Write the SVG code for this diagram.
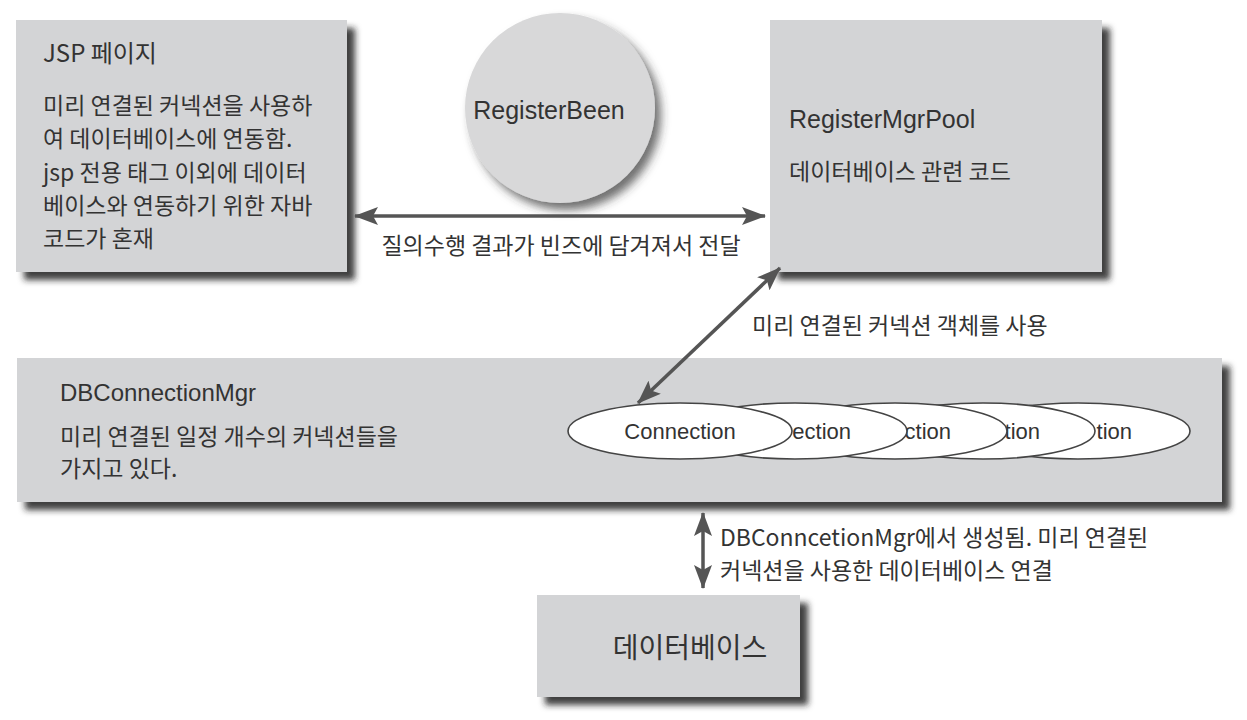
<svg xmlns="http://www.w3.org/2000/svg" width="1247" height="720" viewBox="0 0 1247 720">
<defs>
<style>
.box{fill:#d3d4d6;filter:url(#sh);}
.kr{font-family:"Noto Sans CJK KR","Liberation Sans",sans-serif;fill:#333;font-size:23px;}
.lt{font-family:"Liberation Sans","Noto Sans CJK KR",sans-serif;fill:#333;font-size:25px;}
.conn{fill:#fff;stroke:#444;stroke-width:1.6;}
.ct{font-family:"Liberation Sans",sans-serif;fill:#333;font-size:22px;}
.arr{stroke:#555;stroke-width:3.5;fill:none;marker-start:url(#ah);marker-end:url(#ah);}
</style>
<filter id="sh" x="-10%" y="-10%" width="130%" height="140%">
<feDropShadow dx="8" dy="8" stdDeviation="3" flood-color="#222" flood-opacity="0.85"/>
</filter>
<filter id="csh" x="-20%" y="-20%" width="150%" height="150%">
<feDropShadow dx="6" dy="7" stdDeviation="5" flood-color="#333" flood-opacity="0.7"/>
</filter>
<marker id="ah" viewBox="0 0 24 18" refX="23" refY="9" markerWidth="24" markerHeight="18" markerUnits="userSpaceOnUse" orient="auto-start-reverse">
<path d="M0,0 L24,9 L0,18 L5,9 z" fill="#555"/>
</marker>
</defs>
<rect width="1247" height="720" fill="#fff"/>

<g id="jsp">
<rect class="box" x="16" y="20" width="331" height="252"/>
<text class="kr" x="43" y="62" style="font-size:24px">JSP 페이지</text>
<text class="kr" x="43" y="114">미리 연결된 커넥션을 사용하</text>
<text class="kr" x="43" y="147">여 데이터베이스에 연동함.</text>
<text class="kr" x="43" y="181">jsp 전용 태그 이외에 데이터</text>
<text class="kr" x="43" y="214">베이스와 연동하기 위한 자바</text>
<text class="kr" x="43" y="247">코드가 혼재</text>
</g>

<g id="registerbeen">
<circle cx="560" cy="108" r="95" fill="#d8d8d9" filter="url(#csh)"/>
<text class="lt" x="549" y="119" text-anchor="middle">RegisterBeen</text>
</g>

<g id="registermgrpool">
<rect class="box" x="770" y="20" width="332" height="252"/>
<text class="lt" x="789" y="128">RegisterMgrPool</text>
<text class="kr" x="789" y="180">데이터베이스 관련 코드</text>
</g>

<g id="dbconnectionmgr">
<rect class="box" x="17" y="358" width="1205" height="144"/>
<text class="lt" x="60" y="401" style="font-size:24px">DBConnectionMgr</text>
<text class="kr" x="60" y="445">미리 연결된 일정 개수의 커넥션들을</text>
<text class="kr" x="60" y="477">가지고 있다.</text>
</g>

<g id="conn5"><ellipse class="conn" cx="1078" cy="431" rx="112" ry="28"/><text class="ct" x="1132" y="439" text-anchor="end">tion</text></g>
<g id="conn4"><ellipse class="conn" cx="983" cy="431" rx="112" ry="28"/><text class="ct" x="1040" y="439" text-anchor="end">tion</text></g>
<g id="conn3"><ellipse class="conn" cx="895" cy="431" rx="112" ry="28"/><text class="ct" x="951" y="439" text-anchor="end">ction</text></g>
<g id="conn2"><ellipse class="conn" cx="795" cy="431" rx="112" ry="28"/><text class="ct" x="851" y="439" text-anchor="end">ection</text></g>
<g id="conn1"><ellipse class="conn" cx="680" cy="431" rx="112" ry="28"/><text class="ct" x="680" y="439" text-anchor="middle">Connection</text></g>

<g id="database">
<rect class="box" x="537" y="595" width="263" height="102"/>
<text class="kr" x="690" y="658" text-anchor="middle" style="font-size:28px">데이터베이스</text>
</g>

<g id="connectors">
<line class="arr" x1="355" y1="216" x2="765" y2="216"/>
<text class="kr" x="561" y="254" text-anchor="middle">질의수행 결과가 빈즈에 담겨져서 전달</text>
<line class="arr" x1="638" y1="403" x2="780" y2="268"/>
<text class="kr" x="752" y="334">미리 연결된 커넥션 객체를 사용</text>
<line class="arr" x1="703" y1="513" x2="703" y2="588"/>
<text class="kr" x="720" y="546">DBConncetionMgr에서 생성됨. 미리 연결된</text>
<text class="kr" x="720" y="579">커넥션을 사용한 데이터베이스 연결</text>
</g>
</svg>
